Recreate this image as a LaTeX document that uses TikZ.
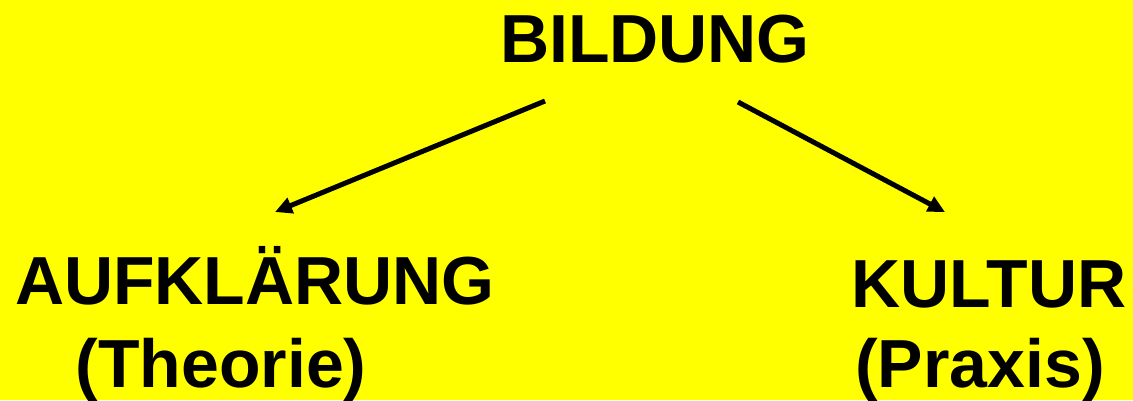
\documentclass[tikz,border=0pt]{standalone}
\usepackage{fontspec}
\setmainfont{Liberation Sans}
\usetikzlibrary{arrows.meta}
\definecolor{bgyellow}{RGB}{255,255,0}
\begin{document}
\begin{tikzpicture}[x=1pt,y=1pt,
  label/.style={font=\fontsize{68}{80}\selectfont\bfseries, inner sep=0pt, anchor=base},
  conn/.style={line width=5pt, -{Triangle[length=17pt,width=16pt]}}]
\fill[bgyellow] (0,0) rectangle (1133,-400);
\useasboundingbox (0,0) rectangle (1133,-400);
\node[label] (bildung) at (655,-62) {BILDUNG};
\node[label] (aufk) at (255,-304) {AUFKLÄRUNG};
\node[label] (theorie) at (221,-387) {(Theorie)};
\node[label] (kultur) at (989,-307) {KULTUR};
\node[label] (praxis) at (980,-387) {(Praxis)};
\coordinate (ls) at (545,-101);
\coordinate (lt) at (275,-212);
\coordinate (rs) at (738,-102);
\coordinate (rt) at (945,-212);
\draw[conn] (ls) -- (lt);
\draw[conn] (rs) -- (rt);
\end{tikzpicture}
\end{document}
